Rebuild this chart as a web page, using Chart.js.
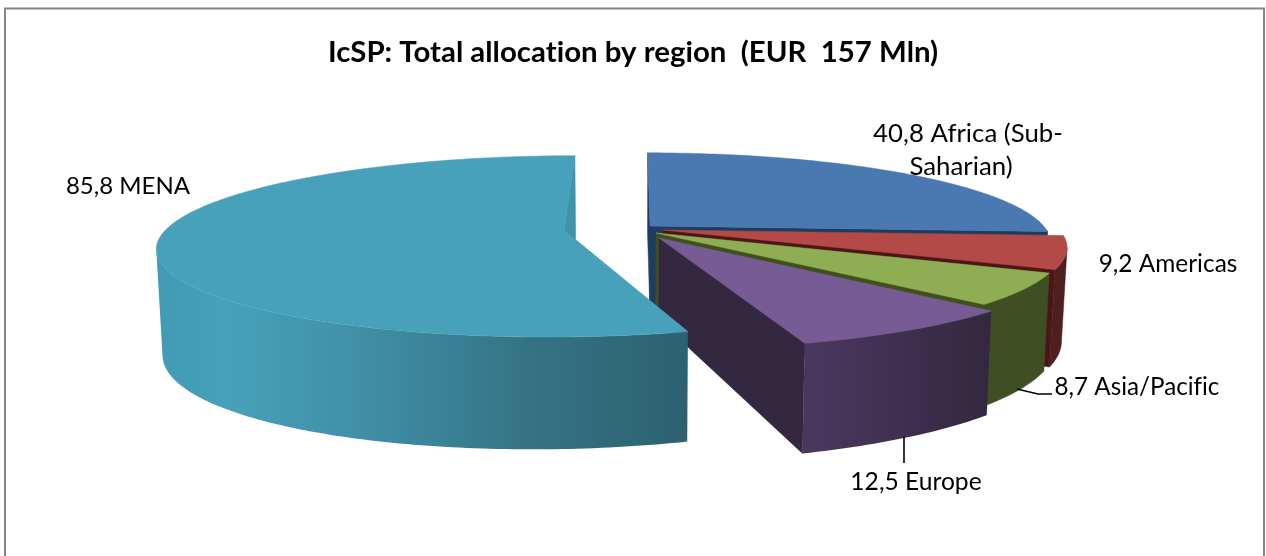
<!DOCTYPE html>
<html>
<head>
<meta charset="utf-8">
<style>html,body{margin:0;padding:0;background:#fff;overflow:hidden}canvas{display:block}</style>
<script src="https://cdn.jsdelivr.net/npm/chart.js@4"></script>
</head>
<body>
<canvas id="c" width="1266" height="556"></canvas>
<script>
const titleText = "IcSP: Total allocation by region  (EUR  157 Mln)";
const categories = ["Africa (Sub-Saharian)", "Americas", "Asia/Pacific", "Europe", "MENA"];
const values = [40.8, 9.2, 8.7, 12.5, 85.8];
const topColors = ["#4a78b0", "#b34a47", "#8fae54", "#775b94", "#48a1ba"];
const radialColors = ["#1e3c5e", "#4a1616", "#414f1c", "#33283f", "#3f93ab"];

// Exploded slice tips and rim scale on screen (style of the 3D view, not data)
const tips = [[650,226],[663,230],[656,233],[659,238],[564,230]];
const rimScale = [0.993,0.992,0.99,0.99,0.997];
const view = {x0:635, y0:228, a:398, b:87, p:0.18, shrink:0.987, tipDepth:82};

// Label layout
const labelLines = [
  {t:"40,8 Africa (Sub-", x:968, y:133, size:25.8},
  {t:"Saharian)", x:961, y:166, size:25.8},
  {t:"9,2 Americas", x:1168, y:263, size:24.4},
  {t:"8,7 Asia/Pacific", x:1137, y:386, size:24.2},
  {t:"12,5 Europe", x:916, y:481, size:24.6},
  {t:"85,8 MENA", x:128, y:185, size:24}
];
const leaders = [
  [[1017,389],[1038,394],[1052,394]],
  [[904,437],[904,463]]
];

function tipWorld(i){
  const d = tips[i][1]-view.y0;
  const wy = d/(view.b+view.p*d);
  return {wx:(tips[i][0]-view.x0)*(1-view.p*wy), wy};
}
function proj(i,X,Y){
  const t = tipWorld(i), wx = t.wx+view.a*rimScale[i]*X, wy = t.wy+Y, s = 1/(1-view.p*wy);
  return {x:view.x0+wx*s, y:view.y0+view.b*wy*s, wx, wy};
}
function drop(p,depth){
  const d = depth!==undefined ? depth : 96+14.9*p.wy-0.0132*p.wx;
  return {x:view.x0+(p.x-view.x0)*view.shrink, y:p.y+d};
}
function poly(ctx,pts,fill){
  ctx.beginPath();
  pts.forEach((p,k)=>k?ctx.lineTo(p.x,p.y):ctx.moveTo(p.x,p.y));
  ctx.closePath();
  ctx.fillStyle=fill; ctx.fill();
  ctx.strokeStyle=typeof fill==='string'?fill:'rgba(0,0,0,0)'; ctx.lineWidth=0.5; ctx.stroke();
}
function sideFill(ctx,i){
  const mk=(x1,x2,stops)=>{const g=ctx.createLinearGradient(x1,0,x2,0);stops.forEach(s=>g.addColorStop(s[0],s[1]));return g;};
  if(i===4) return mk(157,688,[[0,"#429ab3"],[0.13,"#47a1ba"],[0.4,"#3f8ea6"],[0.7,"#357383"],[1,"#2c6170"]]);
  if(i===3) return mk(802,990,[[0,"#4b3860"],[1,"#33283f"]]);
  if(i===2) return "#404e23";
  if(i===1) return "#4f1f1f";
  return "#1e3c5e";
}

const pie3d = {
  id:'pie3d',
  beforeDraw(chart){
    const ctx=chart.ctx;
    ctx.letterSpacing="0.01px"; // keeps "ti" and "fi" as separate letters
    ctx.save();
    ctx.fillStyle="#fff"; ctx.fillRect(0,0,1266,556);
    ctx.strokeStyle="#868686"; ctx.lineWidth=2;
    ctx.strokeRect(5,8.5,1259,640);
    ctx.restore();
  },
  beforeDatasetsDraw(chart){
    const ctx=chart.ctx, arcs=chart.getDatasetMeta(0).data;
    ctx.save();
    arcs.forEach((arc,i)=>{
      const a0=arc.startAngle, a1=arc.endAngle, N=Math.max(8,Math.round((a1-a0)*60));
      const at=a=>proj(i,Math.cos(a),Math.sin(a));
      const tip=proj(i,0,0);
      const e=at(a1);
      poly(ctx,[tip,e,drop(e),drop(tip,view.tipDepth)],radialColors[i]);
      if(i===0){
        const s=at(a0);
        poly(ctx,[tip,s,drop(s),drop(tip,view.tipDepth)],radialColors[i]);
      }
      // rim wall runs between the left and right silhouette points only
      let rim=[], minX=Infinity;
      for(let k=0;k<=N;k++){
        const a=a0+(a1-a0)*k/N;
        if(Math.sin(a)<0 && Math.cos(a)>0) continue;
        const p=at(a);
        if(Math.cos(a)<0 && p.x>minX+0.01) break;
        minX=Math.min(minX,p.x);
        rim.push(p);
      }
      while(rim.length>2 && rim[1].x>rim[0].x) rim.shift();
      if(rim.length>1){
        poly(ctx,rim.concat(rim.map(p=>drop(p)).reverse()),sideFill(ctx,i));
      }
      const face=[tip];
      for(let k=0;k<=N;k++) face.push(at(a0+(a1-a0)*k/N));
      poly(ctx,face,arc.options.backgroundColor);
    });
    ctx.restore();
    return false;
  },
  afterDraw(chart){
    const ctx=chart.ctx;
    ctx.save();
    ctx.strokeStyle="#000"; ctx.lineWidth=1.6;
    leaders.forEach(l=>{
      ctx.beginPath();
      l.forEach((p,k)=>k?ctx.lineTo(p[0],p[1]):ctx.moveTo(p[0],p[1]));
      ctx.stroke();
    });
    ctx.fillStyle="#000"; ctx.textAlign="center"; ctx.textBaseline="alphabetic";
    labelLines.forEach(l=>{ctx.font=l.size+"px Lato"; ctx.fillText(l.t,l.x,l.y+9);});
    ctx.restore();
  }
};

new Chart(document.getElementById('c'),{
  type:'pie',
  data:{labels:categories,datasets:[{data:values,backgroundColor:topColors,borderWidth:0}]},
  options:{
    responsive:false,animation:false,
    layout:{padding:0},
    plugins:{
      legend:{display:false},tooltip:{enabled:false},
      title:{display:true,text:titleText,color:"#000",font:{family:"Lato",size:29.4,weight:"bold"},padding:{top:35,bottom:10}}
    }
  },
  plugins:[pie3d]
});
</script>
</body>
</html>
